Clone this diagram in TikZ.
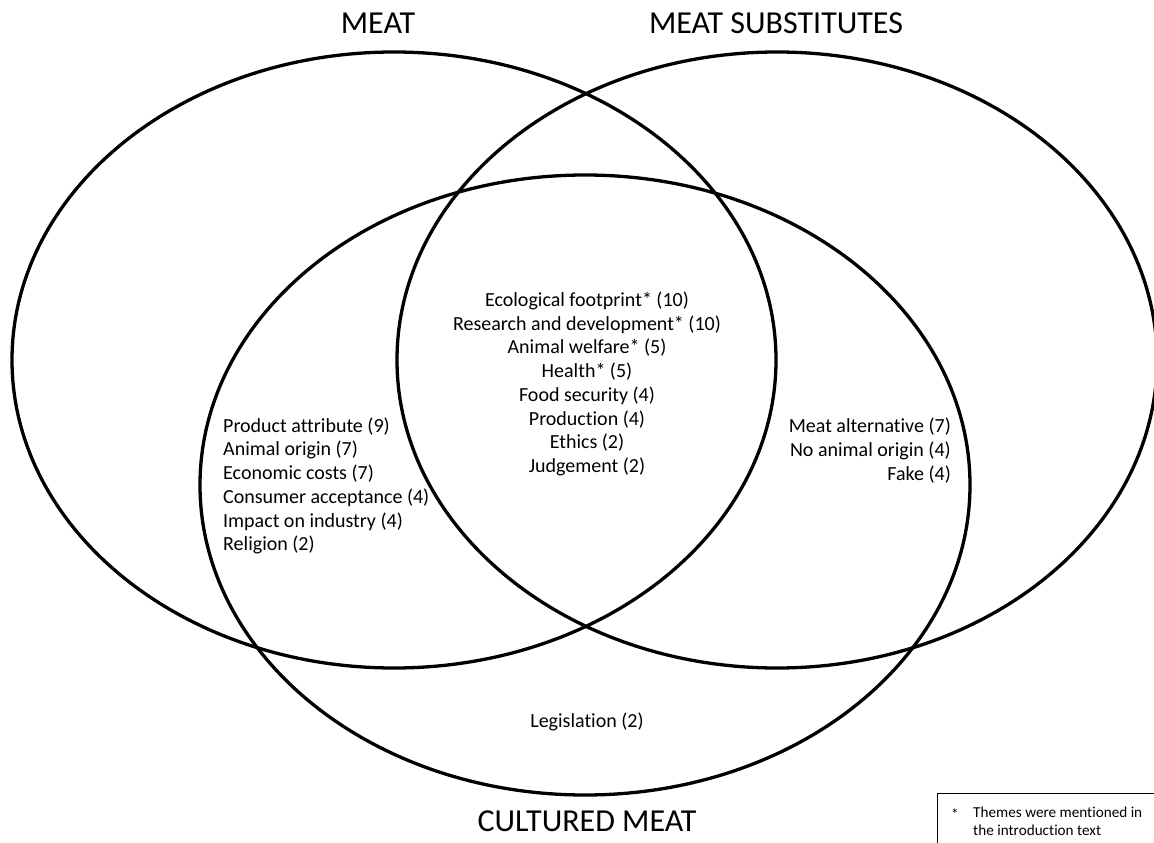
\documentclass[tikz,border=0pt]{standalone}
\usepackage{fontspec}
\setmainfont{Carlito}[Ligatures=NoCommon]
\begin{document}
\begin{tikzpicture}[x=1pt,y=-1pt,
  setline/.style={line width=3.3pt, draw=black},
  titletext/.style={font=\fontsize{32}{38}\selectfont, inner sep=0pt},
  bodytext/.style={font=\fontsize{20}{23.75}\selectfont, inner sep=0pt},
  legendtext/.style={font=\fontsize{15.2}{18}\selectfont, inner sep=0pt, anchor=west}]
\useasboundingbox (0,0) rectangle (1154,843);
\clip (0,0) rectangle (1154,843);
\fill[white] (0,0) rectangle (1154,843);
% sets
\draw[setline] (394,360) ellipse [x radius=382pt, y radius=308pt];
\draw[setline] (777,360) ellipse [x radius=380pt, y radius=308pt];
\draw[setline] (585,485) ellipse [x radius=385pt, y radius=310pt];
% titles
\node[titletext] (tmeat) at (378,23) {MEAT};
\node[titletext] (tsub) at (776,23) {MEAT SUBSTITUTES};
\node[titletext] (tcult) at (587,821) {CULTURED MEAT};
% region texts
\node[bodytext, align=center] (center) at (587,384) {Ecological footprint* (10)\\Research and development* (10)\\Animal welfare* (5)\\Health* (5)\\Food security (4)\\Production (4)\\Ethics (2)\\Judgement (2)};
\node[bodytext, align=left, anchor=west] (left) at (223,486) {Product attribute (9)\\Animal origin (7)\\Economic costs (7)\\Consumer acceptance (4)\\Impact on industry (4)\\Religion (2)};
\node[bodytext, align=right, anchor=east] (right) at (951,450.5) {Meat alternative (7)\\No animal origin (4)\\Fake (4)};
\node[bodytext] (legis) at (587,722) {Legislation (2)};
% legend
\node[draw=black, line width=1pt, anchor=north west, minimum width=260pt, minimum height=80pt, inner sep=0pt] (legend) at (937,793) {};
\node[legendtext] (star) at (951,814) {*};
\node[legendtext] (leg1) at (973,812) {Themes were mentioned in};
\node[legendtext] (leg2) at (973,830) {the introduction text};
\end{tikzpicture}
\end{document}
